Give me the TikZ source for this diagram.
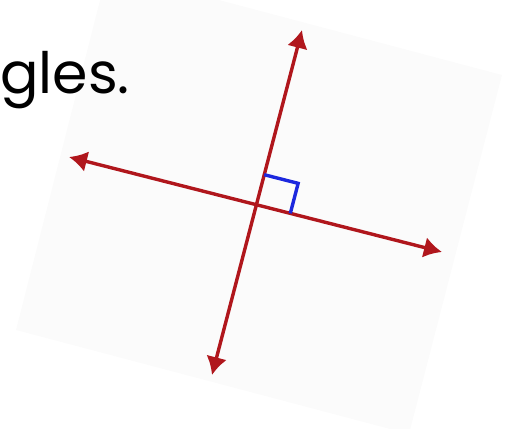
\documentclass[tikz,border=0pt]{standalone}
\usepackage{fontspec}
\newfontfamily\handfont{Poppins}
\usetikzlibrary{arrows.meta, calc}

\definecolor{sheetgray}{RGB}{251,251,251}
\definecolor{linered}{RGB}{176,22,28}
\definecolor{markblue}{RGB}{28,40,222}

\begin{document}
\begin{tikzpicture}[
        x=1pt, y=-1pt,
        line/.style={linered, line width=3.4pt, {Latex[length=18pt, width=21pt]}-{Latex[length=18pt, width=21pt]}},
        anglemark/.style={markblue, line width=3.4pt, line join=miter},
        caption/.style={font=\handfont\fontsize{57}{68}\selectfont, inner sep=0pt}
    ]
        \useasboundingbox (0,0) rectangle (513,428);
        \clip (0,0) rectangle (513,428);

        % tilted sheet behind the lines
        \fill[sheetgray] (107.6,-29.5) -- (502,75) -- (409,434) -- (16,330) -- cycle;

        \node[caption, anchor=base west] (title) at (0,93) {gles.};

        \coordinate (top) at (302,30);
        \coordinate (bottom) at (212,375);
        \coordinate (left) at (69,157);
        \coordinate (right) at (442,252);
        \coordinate (O) at (256.4,204.7);

        \draw[line] (bottom) -- (top);
        \draw[line] (left) -- (right);

        % right angle mark
        \coordinate (mv) at ($(O)!31pt!(top)$);
        \coordinate (mh) at ($(O)!35pt!(right)$);
        \draw[anglemark] (mv) -- ($(mv)+(mh)-(O)$) -- (mh);
    \end{tikzpicture}
\end{document}
